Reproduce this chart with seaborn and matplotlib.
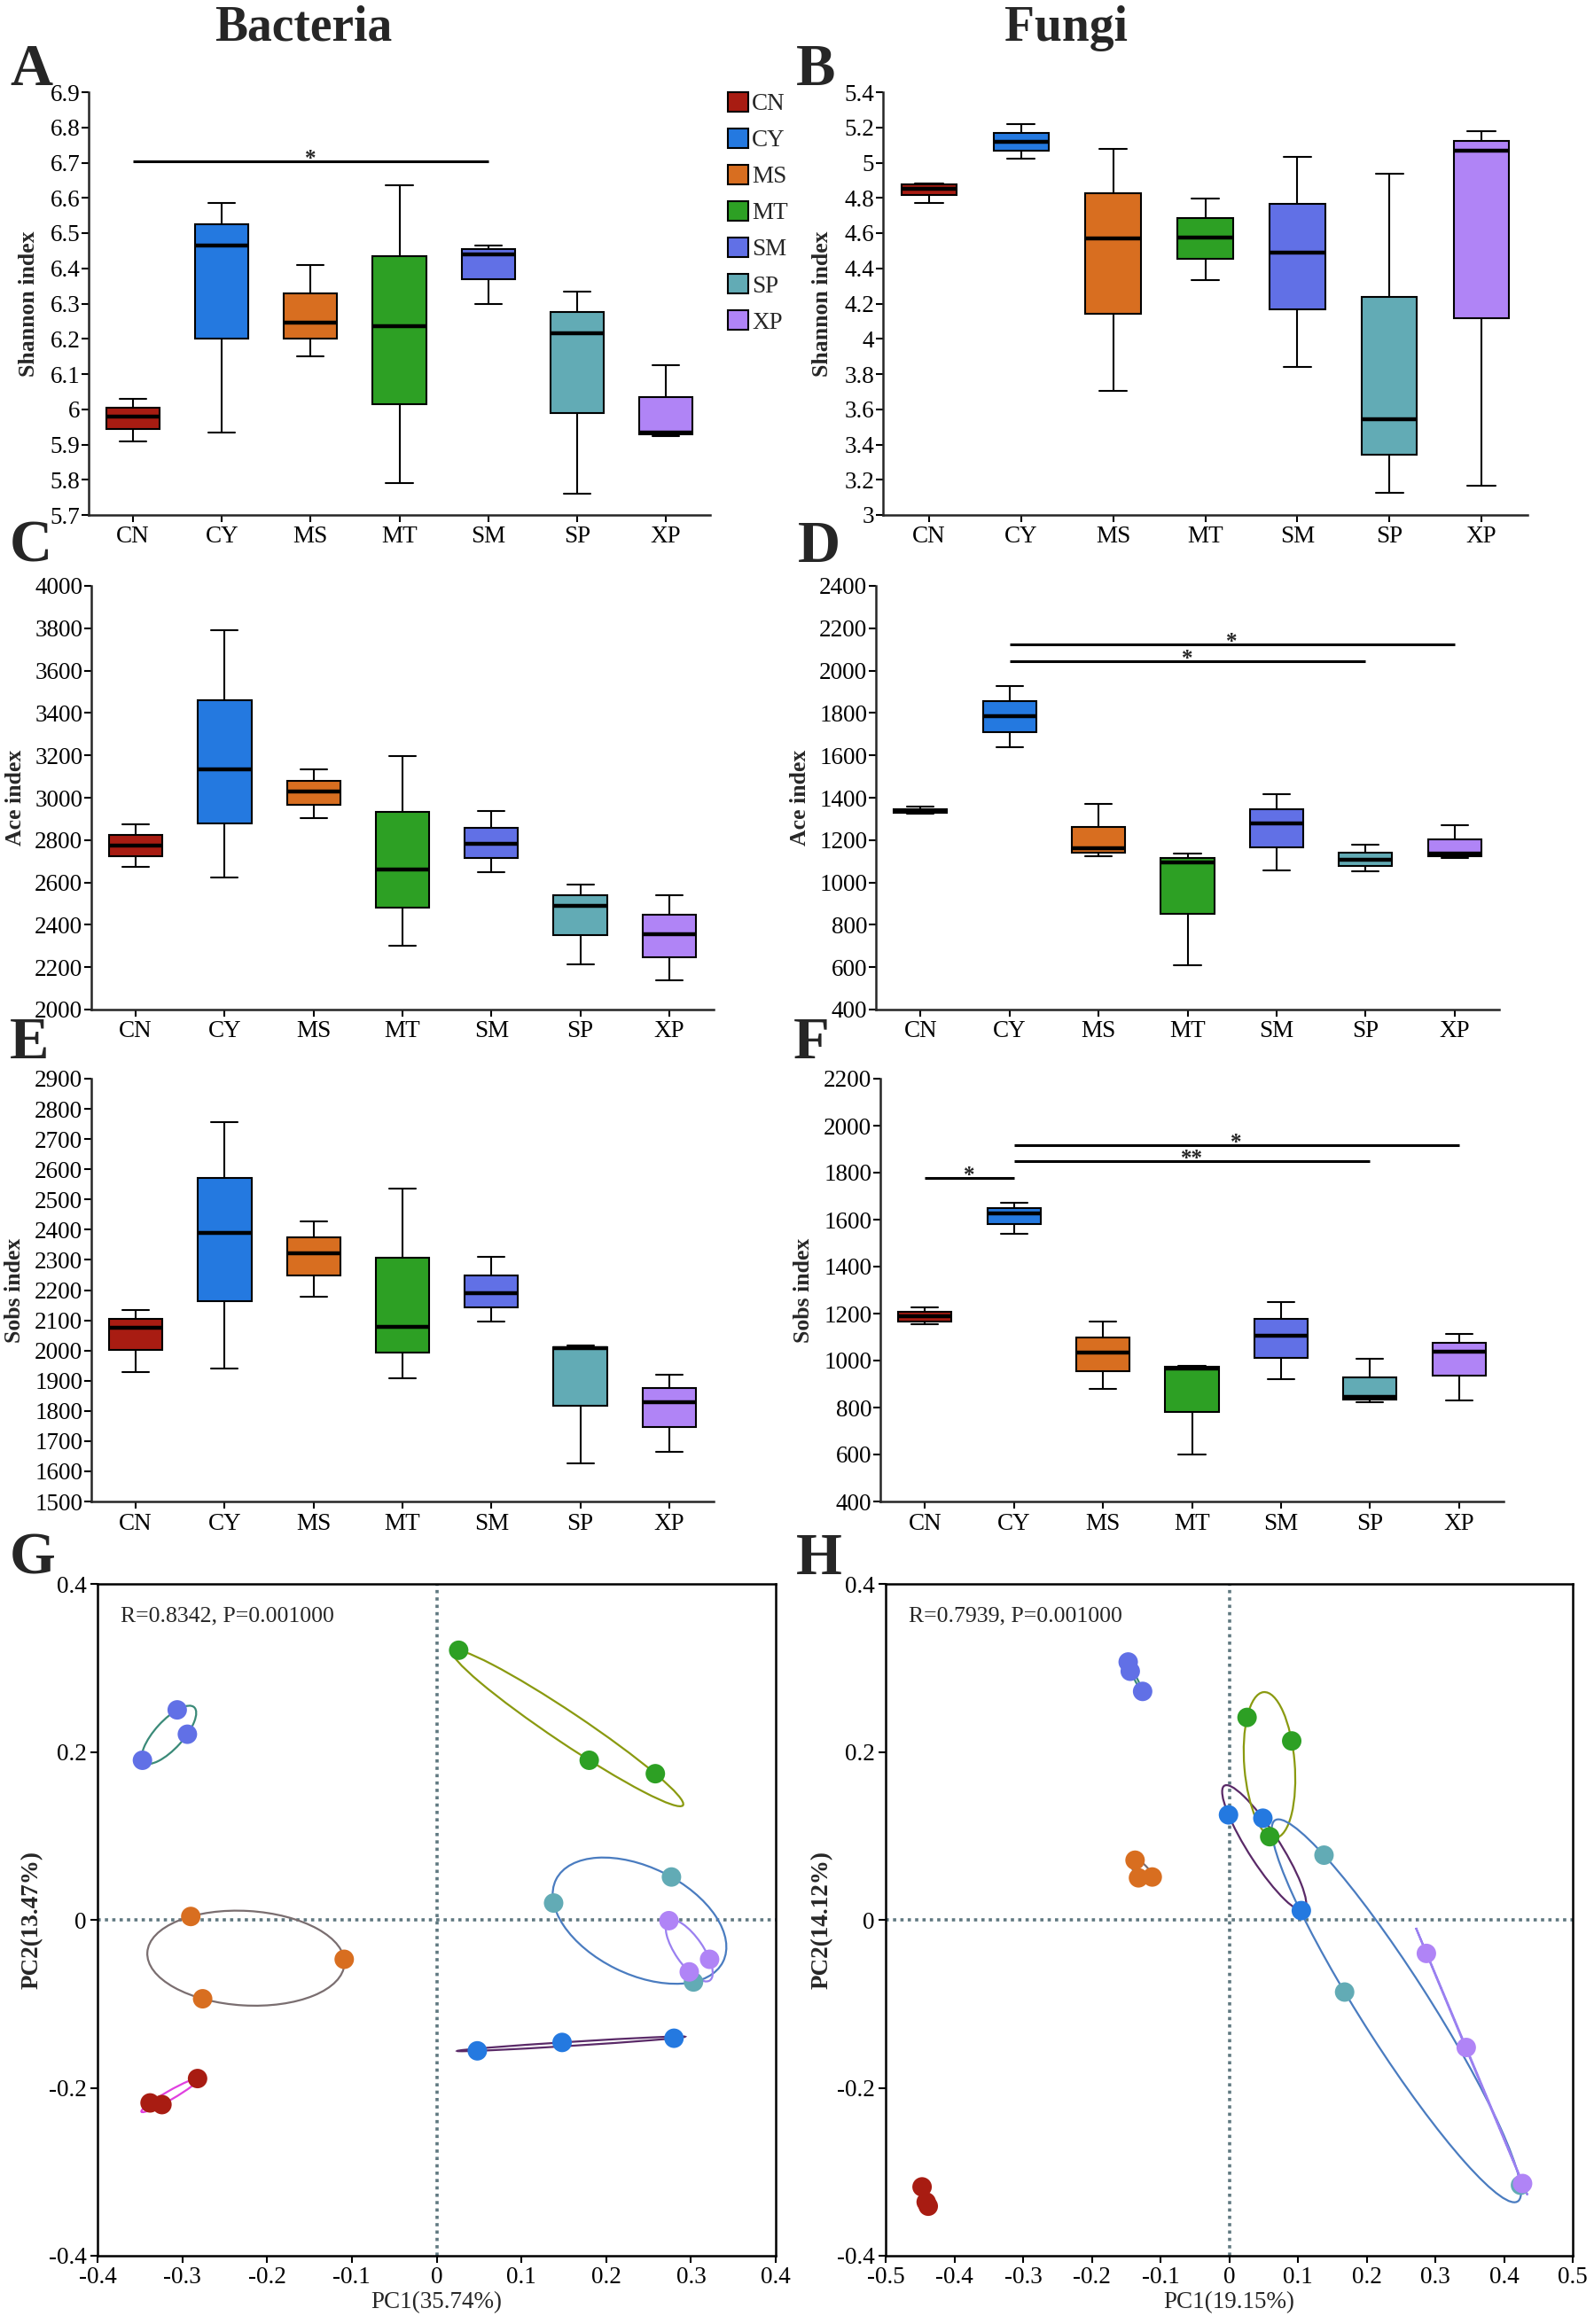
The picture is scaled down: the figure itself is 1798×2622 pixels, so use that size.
import numpy as np
import pandas as pd
import seaborn as sns
import matplotlib.pyplot as plt
from matplotlib.patches import Ellipse, Patch
from matplotlib.ticker import FuncFormatter, MultipleLocator

W, H = 1798, 2622

groups = ["CN", "CY", "MS", "MT", "SM", "SP", "XP"]
box_colors = ["#a81c12", "#2479e0", "#d86e20", "#2da024", "#6170e6", "#62abb5", "#b084f6"]
ell_colors = ["#e040e0", "#5a2a68", "#7a6e70", "#8a9a10", "#3a8a78", "#4a7cc0", "#9a80f0"]

# five numbers per box: whisker low, Q1, median, Q3, whisker high
shannon_bac = [[5.91, 5.945, 5.98, 6.005, 6.03], [5.935, 6.20, 6.465, 6.525, 6.585],
               [6.15, 6.20, 6.245, 6.33, 6.41], [5.79, 6.015, 6.235, 6.435, 6.635],
               [6.30, 6.37, 6.44, 6.455, 6.465], [5.76, 5.99, 6.215, 6.275, 6.335],
               [5.925, 5.93, 5.935, 6.035, 6.125]]
shannon_fun = [[4.77, 4.815, 4.85, 4.875, 4.88], [5.025, 5.07, 5.12, 5.17, 5.22],
               [3.705, 4.14, 4.57, 4.825, 5.08], [4.335, 4.455, 4.575, 4.685, 4.795],
               [3.84, 4.165, 4.49, 4.765, 5.035], [3.125, 3.34, 3.545, 4.24, 4.935],
               [3.165, 4.115, 5.07, 5.125, 5.18]]
ace_bac = [[2674, 2723, 2775, 2825, 2873], [2624, 2879, 3132, 3460, 3789],
           [2903, 2967, 3030, 3079, 3132], [2302, 2481, 2663, 2931, 3198],
           [2647, 2716, 2783, 2859, 2936], [2213, 2350, 2491, 2540, 2591],
           [2136, 2247, 2356, 2448, 2540]]
ace_fun = [[1325, 1328, 1337, 1346, 1360], [1640, 1711, 1786, 1857, 1927],
           [1122, 1140, 1160, 1264, 1372], [610, 850, 1096, 1116, 1135],
           [1057, 1165, 1277, 1346, 1416], [1053, 1078, 1107, 1141, 1180],
           [1116, 1125, 1138, 1204, 1270]]
sobs_bac = [[1928, 2002, 2076, 2106, 2135], [1940, 2164, 2388, 2572, 2755],
            [2178, 2248, 2322, 2374, 2427], [1909, 1993, 2079, 2308, 2537],
            [2096, 2142, 2191, 2249, 2309], [1626, 1816, 2008, 2011, 2017],
            [1664, 1748, 1830, 1876, 1921]]
sobs_fun = [[1154, 1167, 1187, 1206, 1227], [1541, 1583, 1626, 1649, 1671],
            [878, 954, 1034, 1099, 1167], [600, 782, 966, 973, 979],
            [920, 1012, 1105, 1177, 1249], [821, 834, 847, 930, 1009],
            [830, 934, 1038, 1074, 1112]]

# significance brackets: (group 1, group 2, height, label)
sig_A = [("CN", "SM", 6.705, "*")]
sig_D = [("CY", "SP", 2045, "*"), ("CY", "XP", 2123, "*")]
sig_F = [("CN", "CY", 1778, "*"), ("CY", "SP", 1850, "**"), ("CY", "XP", 1918, "*")]

# PCoA scores, three samples per group
pcoa_groups = np.repeat(groups, 3)
pc1_bac = [-0.338, -0.324, -0.282, 0.048, 0.148, 0.280, -0.290, -0.109, -0.276,
           0.026, 0.180, 0.258, -0.306, -0.294, -0.347, 0.277, 0.138, 0.303,
           0.274, 0.322, 0.298]
pc2_bac = [-0.218, -0.220, -0.189, -0.156, -0.146, -0.141, 0.004, -0.047, -0.094,
           0.321, 0.190, 0.174, 0.250, 0.221, 0.190, 0.051, 0.020, -0.074,
           -0.001, -0.047, -0.062]
pc1_fun = [-0.447, -0.438, -0.441, -0.001, 0.049, 0.105, -0.137, -0.132, -0.112,
           0.026, 0.091, 0.059, -0.147, -0.144, -0.126, 0.138, 0.168, 0.424,
           0.287, 0.345, 0.427]
pc2_fun = [-0.318, -0.341, -0.336, 0.125, 0.121, 0.011, 0.071, 0.050, 0.051,
           0.241, 0.213, 0.099, 0.307, 0.296, 0.272, 0.077, -0.086, -0.316,
           -0.040, -0.152, -0.314]

sns.set_style("ticks")
plt.rcParams["font.family"] = ["Liberation Serif", "DejaVu Serif"]
plt.rcParams["axes.linewidth"] = 1.8

pal = dict(zip(groups, box_colors))
fig = plt.figure(figsize=(W / 100, H / 100), dpi=100)


def px_axes(l, t, r, b):
    return fig.add_axes([l / W, 1 - b / H, (r - l) / W, (b - t) / H])


fmt = FuncFormatter(lambda v, p: f"{round(v, 6):g}")
TICK = 19.5


def box_panel(rect, vals, ymin, ymax, step, ylabel, labx, sig=None):
    ax = px_axes(*rect)
    df = pd.DataFrame({"group": np.repeat(groups, 5), "value": np.concatenate(vals)})
    sns.boxplot(data=df, x="group", y="value", hue="group", palette=pal, order=groups,
                width=0.6, whis=(0, 100), saturation=1, linecolor="black", linewidth=1.5,
                medianprops={"linewidth": 3.2, "color": "black"}, legend=False, ax=ax)
    ax.set_xlim(-0.5, 6.5)
    ax.set_ylim(ymin, ymax)
    ax.yaxis.set_major_locator(MultipleLocator(step))
    ax.yaxis.set_major_formatter(fmt)
    sns.despine(ax=ax)
    ax.tick_params(direction="out", length=6, width=1.5, labelsize=TICK, colors="black")
    ax.tick_params(axis="y", pad=1)
    ax.tick_params(axis="x", pad=3)
    ax.set_xlabel("")
    ax.set_ylabel(ylabel, fontsize=18.5, fontweight="bold")
    ax.yaxis.set_label_coords(labx, 0.5)
    for g1, g2, yv, lab in (sig or []):
        i1, i2 = groups.index(g1), groups.index(g2)
        ax.plot([i1, i2], [yv, yv], color="black", lw=2.2, solid_capstyle="butt")
        ax.annotate(lab, ((i1 + i2) / 2, yv), xytext=(0, -3), textcoords="offset points",
                    ha="center", va="baseline", fontsize=18, fontweight="bold")
    return ax


box_panel((100, 104, 801, 581), shannon_bac, 5.7, 6.9, 0.1, "Shannon index", -0.080, sig_A)
box_panel((996, 104, 1723, 581), shannon_fun, 3.0, 5.4, 0.2, "Shannon index", -0.079)
box_panel((103, 661, 805, 1139), ace_bac, 2000, 4000, 200, "Ace index", -0.105)
box_panel((988, 661, 1691, 1139), ace_fun, 400, 2400, 200, "Ace index", -0.105, sig_D)
box_panel((103, 1217, 805, 1694), sobs_bac, 1500, 2900, 100, "Sobs index", -0.107)
box_panel((993, 1217, 1696, 1694), sobs_fun, 400, 2200, 200, "Sobs index", -0.107, sig_F)

handles = [Patch(facecolor=c, edgecolor="black", linewidth=1.5) for c in box_colors]
fig.legend(handles, groups, loc="upper left", bbox_to_anchor=(821 / W, 1 - 104 / H),
           frameon=False, fontsize=TICK, handlelength=0.85, handleheight=0.85,
           handletextpad=0.15, labelspacing=0.55, borderpad=0, borderaxespad=0)


def steiner_ellipse(ax, x, y, color):
    x, y = np.asarray(x), np.asarray(y)
    vals, vecs = np.linalg.eigh(np.cov(x, y))
    k = np.sqrt(4 / 3)  # three points: ellipse passes through all of them
    w = 2 * k * np.sqrt(max(vals[1], 0))
    h = 2 * k * np.sqrt(max(vals[0], 0))
    ang = np.degrees(np.arctan2(vecs[1, 1], vecs[0, 1]))
    ax.add_patch(Ellipse((x.mean(), y.mean()), w, h, angle=ang, facecolor="none",
                         edgecolor=color, lw=1.6, zorder=2))


def pcoa_panel(rect, pc1, pc2, xlim, xlabel, ylabel, stat, labx):
    ax = px_axes(*rect)
    df = pd.DataFrame({"group": pcoa_groups, "pc1": pc1, "pc2": pc2})
    ax.axhline(0, color="#5f7880", lw=2.6, ls=(0, (1, 1.3)), zorder=1)
    ax.axvline(0, color="#5f7880", lw=2.6, ls=(0, (1, 1.3)), zorder=1)
    for g, c in zip(groups, ell_colors):
        sub = df[df.group == g]
        steiner_ellipse(ax, sub.pc1, sub.pc2, c)
    sns.scatterplot(data=df, x="pc1", y="pc2", hue="group", palette=pal, s=250,
                    linewidth=0, legend=False, zorder=3, ax=ax)
    ax.set_xlim(*xlim)
    ax.set_ylim(-0.4, 0.4)
    ax.xaxis.set_major_locator(MultipleLocator(0.1))
    ax.yaxis.set_major_locator(MultipleLocator(0.2))
    ax.xaxis.set_major_formatter(fmt)
    ax.yaxis.set_major_formatter(fmt)
    ax.tick_params(direction="out", length=6, width=1.5, labelsize=TICK, colors="black")
    ax.tick_params(axis="x", pad=3)
    ax.tick_params(axis="y", pad=3)
    ax.set_xlabel(xlabel, fontsize=19.5, labelpad=2)
    ax.set_ylabel(ylabel, fontsize=19.5, fontweight="bold")
    ax.yaxis.set_label_coords(labx, 0.5)
    ax.text(0.034, 0.9525, stat, transform=ax.transAxes, ha="left", va="center", fontsize=18.5)
    for s in ax.spines.values():
        s.set_linewidth(1.8)
        s.set_color("black")
    return ax


pcoa_panel((110, 1787, 875, 2545), pc1_bac, pc2_bac, (-0.4, 0.4), "PC1(35.74%)",
           "PC2(13.47%)", "R=0.8342, P=0.001000", -0.080)
pcoa_panel((999, 1787, 1774, 2545), pc1_fun, pc2_fun, (-0.5, 0.5), "PC1(19.15%)",
           "PC2(14.12%)", "R=0.7939, P=0.001000", -0.077)

fig.text(342 / W, 1 - 32 / H, "Bacteria", ha="center", va="center", fontsize=40, fontweight="bold")
fig.text(1202 / W, 1 - 32 / H, "Fungi", ha="center", va="center", fontsize=40, fontweight="bold")

# panel letters, placed on their baselines
letters = [("A", 11, 96), ("B", 898, 96), ("C", 11, 634), ("D", 900, 634),
           ("E", 11, 1194), ("F", 895, 1194), ("G", 11, 1776), ("H", 898, 1776)]
for lab, lx, ly in letters:
    fig.text(lx / W, 1 - ly / H, lab, ha="left", va="baseline", fontsize=48, fontweight="bold")

fig.savefig("out.png", dpi=100)
